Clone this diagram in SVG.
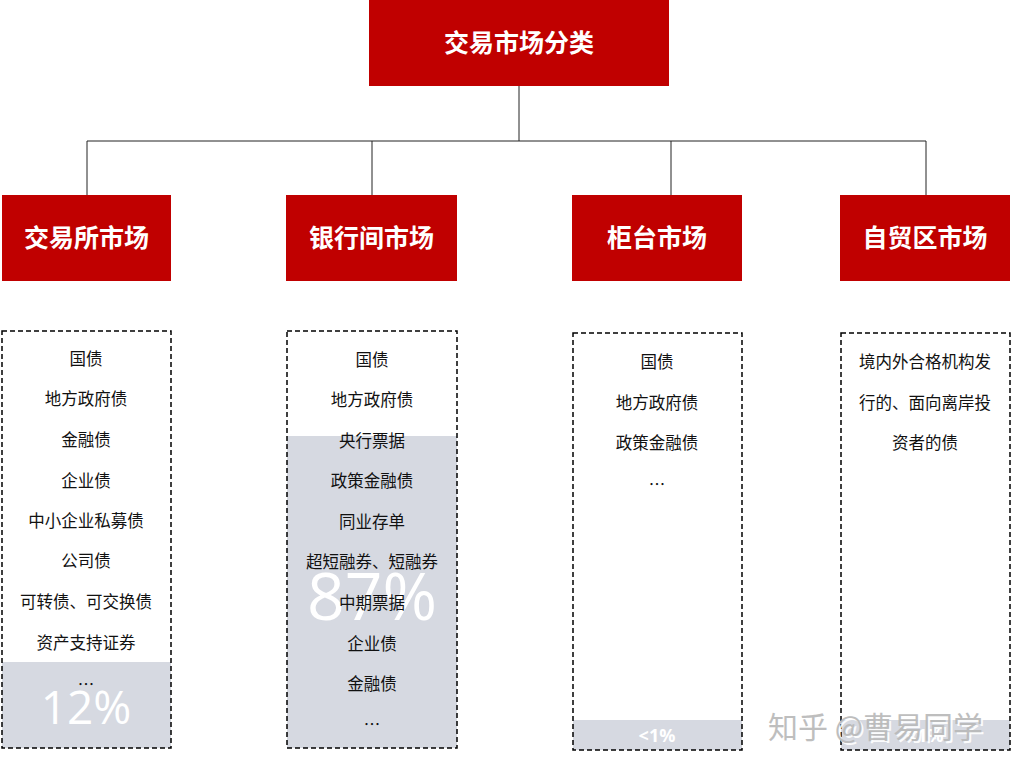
<svg xmlns="http://www.w3.org/2000/svg" width="1012" height="767" viewBox="0 0 1012 767">
<style>
.hdr{fill:#c00000}
.ht{fill:#fff;font-family:"Noto Sans CJK SC",sans-serif;font-weight:bold;font-size:25px;text-anchor:middle}
.box{fill:none;stroke:#000;stroke-width:1.5;stroke-dasharray:5,3}
.sh{fill:#d6d9e1}
.t{fill:#111;font-family:"Noto Sans CJK SC",sans-serif;font-size:16.5px;text-anchor:middle}
.pct{fill:#fff;font-family:"Open Sans","Liberation Sans",sans-serif;text-anchor:middle}
.ln{stroke:#222;stroke-width:1;fill:none}
</style>
<rect width="1012" height="767" fill="#fff"/>
<g id="connectors">
<path class="ln" d="M519,86V141M87,141H926M87,141V195M372,141V195M671,141V195M926,141V195"/>
</g>
<g id="root"><rect class="hdr" x="369" y="0" width="300" height="86"/><text class="ht" x="519" y="52">交易市场分类</text></g>
<g id="n1"><rect class="hdr" x="2" y="195" width="169" height="86"/><text class="ht" x="86.5" y="247">交易所市场</text></g>
<g id="n2"><rect class="hdr" x="286" y="195" width="171" height="86"/><text class="ht" x="371.5" y="247">银行间市场</text></g>
<g id="n3"><rect class="hdr" x="572" y="195" width="170" height="86"/><text class="ht" x="657" y="247">柜台市场</text></g>
<g id="n4"><rect class="hdr" x="840" y="195" width="170" height="86"/><text class="ht" x="925" y="247">自贸区市场</text></g>
<g id="l1">
<rect class="sh" x="2" y="662" width="169" height="86"/>
<text class="pct" x="86" y="724" font-size="46">12%</text>
<rect class="box" x="2" y="331" width="169" height="417"/>
<text class="t" x="86" y="365">国债</text><text class="t" x="86" y="405">地方政府债</text><text class="t" x="86" y="446">金融债</text><text class="t" x="86" y="487">企业债</text><text class="t" x="86" y="527">中小企业私募债</text><text class="t" x="86" y="567">公司债</text><text class="t" x="86" y="608">可转债、可交换债</text><text class="t" x="86" y="649">资产支持证券</text><text class="t" x="86" y="691">…</text>
</g>
<g id="l2">
<rect class="sh" x="287" y="436" width="170" height="312"/>
<text class="pct" x="372" y="620" font-size="66">87%</text>
<rect class="box" x="287" y="331" width="170" height="417"/>
<text class="t" x="372" y="366">国债</text><text class="t" x="372" y="406">地方政府债</text><text class="t" x="372" y="447">央行票据</text><text class="t" x="372" y="487">政策金融债</text><text class="t" x="372" y="528">同业存单</text><text class="t" x="372" y="568">超短融券、短融券</text><text class="t" x="372" y="609">中期票据</text><text class="t" x="372" y="650">企业债</text><text class="t" x="372" y="690">金融债</text><text class="t" x="372" y="731">…</text>
</g>
<g id="l3">
<rect class="sh" x="573" y="720" width="169" height="30"/>
<text class="pct" x="657" y="742" font-size="18" font-weight="bold">&lt;1%</text>
<rect class="box" x="573" y="333" width="169" height="417"/>
<text class="t" x="657" y="368">国债</text><text class="t" x="657" y="409">地方政府债</text><text class="t" x="657" y="449">政策金融债</text><text class="t" x="657" y="491">…</text>
</g>
<g id="l4">
<rect class="sh" x="841" y="720" width="169" height="30"/>
<text class="pct" x="925" y="742" font-size="18" font-weight="bold">&lt;1%</text>
<rect class="box" x="841" y="333" width="169" height="417"/>
<text class="t" x="925" y="368">境内外合格机构发</text><text class="t" x="925" y="409">行的、面向离岸投</text><text class="t" x="925" y="449">资者的债</text>
</g>
<g id="watermark" font-family="Noto Sans CJK SC,sans-serif" font-size="30">
<text x="770" y="740" fill="#fff" opacity="0.9">知乎 @曹易同学</text>
<text x="768" y="738" fill="#b8b8b8" opacity="0.9">知乎 @曹易同学</text>
</g>
</svg>
